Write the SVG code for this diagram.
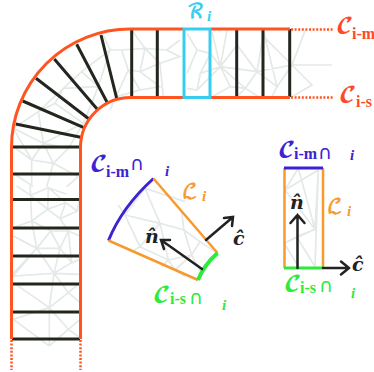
<svg xmlns="http://www.w3.org/2000/svg" width="374" height="372" viewBox="0 0 374 372">
<style>
.mesh{fill:none;stroke:#e3e9e7;stroke-width:5}
.rung{stroke:#22261f;stroke-width:3;fill:none}
.edge{stroke:#ff5420;stroke-width:3;fill:none}
.dot{stroke:#ff5420;stroke-width:2.5;stroke-dasharray:2 1.6;fill:none}
.arr{stroke:#222;stroke-width:2.5;fill:none;stroke-linecap:round;stroke-linejoin:miter}
.c{font-family:"DejaVu Math TeX Gyre","DejaVu Sans",serif;font-size:20px}
.l{font-family:"DejaVu Math TeX Gyre","DejaVu Sans",serif;font-size:20px;stroke-width:.7px}
.s{font-family:"Liberation Serif",serif;font-weight:bold;font-size:16px}
.i{font-family:"Liberation Serif",serif;font-weight:bold;font-style:italic;font-size:15px}
.cap{font-family:"DejaVu Sans",sans-serif;font-size:19px}
.h{font-family:"DejaVu Serif",serif;font-weight:bold;font-style:italic;font-size:19px;fill:#222}
.red{fill:#ff4a2a}.blue{fill:#3d22d4}.green{fill:#2eea3a}.or{fill:#f79a2e;stroke:#f79a2e}.cy{fill:#38cdf0;stroke:#38cdf0}
.i.or,.i.cy{stroke:none}
</style>
<g id="mesh">
<path class="mesh" transform="scale(.3333)" d="M95 480L40 385L130 430L95 480L160 490L130 430L205 445L160 490L235 530M205 445L250 370L130 430M115 335L130 430M115 335L40 385M115 335L165 310L250 370M115 335L190 265L165 310M190 265L245 215L295 260L250 370M295 260L190 265M245 215L330 150L295 260M330 150L365 150L385 210L330 330M330 150L310 105M365 150L435 145L420 215L385 210L420 270L350 290M435 145L395 90M435 145L480 190L420 215L480 260L420 270M480 190L540 170L500 150L435 145M500 150L540 120M480 190L490 290M95 480L40 440M95 480L95 560M160 490L140 560M235 530L200 560M40 520L100 560"/>
<path class="mesh" transform="translate(187 0) scale(.3333)" d="M0 220L30 150L0 100M30 150L70 160L100 200L30 270L0 265M70 160L40 220L100 200L130 260L75 290M75 95L100 200L120 90L100 200L150 135L150 90M100 200L210 215L150 135L210 215L230 95L270 260L210 215L175 265L130 260M175 265L150 290M175 265L215 290M270 260L315 195L235 115M315 195L210 215M315 195L355 90M315 195L435 195M315 195L375 255L315 290M270 260L255 290M100 200L175 265M40 220L30 270"/>
<path class="mesh" transform="translate(0 186) scale(.3333)" d="M92 28L145 5L143 70L92 28L95 105L143 70L180 98L197 50L232 75L180 98M145 5L197 50M143 70L197 50M92 28L50 0M92 28L90 0M145 5L200 25M232 75L240 30M95 105L40 125M95 105L110 187L152 135L95 105M152 135L180 187L110 187L40 150M180 187L205 135L152 135M205 135L180 98M205 135L215 230L180 187L162 262L110 187L162 262L40 270L110 187M110 187L40 262M162 262L240 265M215 230L240 220M205 135L240 150M162 262L205 320L148 365L162 262M205 320L240 350M205 320L240 290M148 365L40 290M148 365L40 400L148 480M148 365L205 430L148 480M148 365L148 480M205 430L240 400M205 430L240 455M162 262L215 230"/>
<path class="mesh" transform="translate(85 145) scale(.3333)" d="M205 100L180 130L120 210L165 305L225 235L120 210M180 130L225 235L297 255L345 290L320 330L250 345L165 305M180 130L300 170M225 235L250 345L270 375L320 330M297 255L320 330L345 290M297 255L290 200M250 345L230 365M270 375L300 395M320 330L350 385M165 305L140 320M120 210L100 180M345 290L398 325"/>
<path class="mesh" transform="translate(265 130) scale(.3333)" d="M150 298L160 120L150 410L95 320L150 298L60 180L100 115L150 298M160 120L60 180M95 320L58 340L100 410L95 320M150 298L58 340"/>
</g>
<g id="connectors">
<path class="rung" d="M12 147H80M12 174H80M12 199.500H80M12 228H80M12 256H80M12 284H80M12 312H80M12 339H80M15.700 124L80.700 137.300M22.700 101L83.300 127.300M36 78.300L89.300 119.300M54.300 59L97.300 109.300M76.700 44.300L107.300 102.700M101 35L116.700 98.300M131.700 29V97M157.300 29V97M236.700 29V97M263 29V97M289.700 29V97"/>
<path class="edge" d="M11.500 339V147.500A118.500 118.500 0 0 1 130 29H183M211 29H290M80.500 339V147A50 50 0 0 1 130.500 97.500H183M211 97.500H290"/>
<path class="dot" d="M11.500 340V370M80.500 340V370M291 29.500H333M291 97.500H333"/>
</g>
<g id="region-i">
<rect x="184" y="29" width="26" height="68.500" fill="none" stroke="#38cdf0" stroke-width="3"/>
<text class="l cy" x="187" y="18">ℛ</text><text class="i cy" x="207" y="21">i</text>
</g>
<g id="label-cim"><text class="c red" x="336" y="33">𝓒</text><text class="s red" x="352" y="39">i-m</text></g>
<g id="label-cis"><text class="c red" x="339" y="102">𝓒</text><text class="s red" x="356" y="107">i-s</text></g>
<g id="cell-curved">
<path d="M153.500 178.500Q122 207 108.500 240.500" fill="none" stroke="#3d22d4" stroke-width="3"/>
<path d="M153.500 178.500L217.500 253M108.500 240.500L198 280" fill="none" stroke="#f79a2e" stroke-width="2.500"/>
<path d="M217.500 253Q204 265 198 280" fill="none" stroke="#2eea3a" stroke-width="4"/>
<path class="arr" d="M202 269L161 240M170 240L161 240L164 249"/>
<path class="arr" d="M206 240L233 217M224 218L233 217L232 226"/>
<text class="c blue" x="90" y="171">𝓒</text><text class="s blue" x="106" y="177">i-m</text><text class="cap blue" x="130" y="170">∩</text><text class="i blue" x="165" y="176">i</text>
<text class="l or" x="182" y="198">ℒ</text><text class="i or" x="202" y="201">i</text>
<text class="h" x="145" y="243">n̂</text>
<text class="h" x="233" y="245">ĉ</text>
<text class="c green" x="153" y="302">𝓒</text><text class="s green" x="170" y="304">i-s</text><text class="cap green" x="189" y="304">∩</text><text class="i green" x="222" y="310">i</text>
</g>
<g id="cell-straight">
<path d="M284.500 168V268M323 168V268" fill="none" stroke="#f79a2e" stroke-width="2.500"/>
<path d="M284 168H323" stroke="#3d22d4" stroke-width="3" fill="none"/>
<path d="M284 268H323" stroke="#2eea3a" stroke-width="3" fill="none"/>
<path class="arr" d="M297.500 268V215M290.500 223L297.500 215L304.500 223"/>
<path class="arr" d="M323 268H349M341 261.500L349 268L341 274.500"/>
<text class="c blue" x="278" y="157">𝓒</text><text class="s blue" x="294" y="159">i-m</text><text class="cap blue" x="318" y="159">∩</text><text class="i blue" x="350" y="160">i</text>
<text class="l or" x="327" y="213">ℒ</text><text class="i or" x="347" y="216">i</text>
<text class="h" x="290" y="209">n̂</text>
<text class="h" x="352" y="271">ĉ</text>
<text class="c green" x="284" y="291">𝓒</text><text class="s green" x="300" y="293">i-s</text><text class="cap green" x="319" y="292">∩</text><text class="i green" x="351" y="298">i</text>
</g>
</svg>
